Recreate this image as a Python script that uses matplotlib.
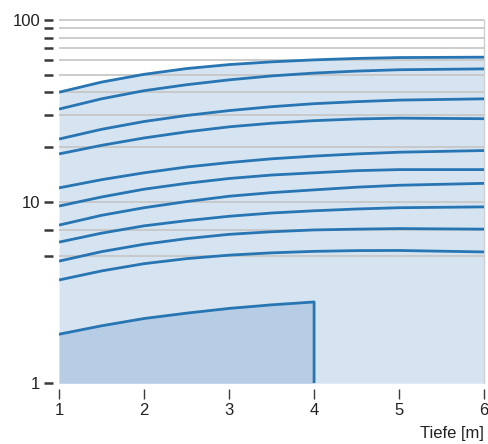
import numpy as np
import matplotlib
matplotlib.use("Agg")
import matplotlib.pyplot as plt
from matplotlib.ticker import FixedLocator, NullFormatter, FixedFormatter

plt.rcParams["font.family"] = ["Liberation Sans", "DejaVu Sans"]

# depth positions where the curves were read
depth = [1, 1.5, 2, 2.5, 3, 3.5, 4, 4.5, 5, 6]

curves = [
    [40.0, 45.5, 50.2, 54.0, 56.8, 58.8, 60.3, 61.4, 62.1, 62.4],
    [32.3, 36.8, 40.8, 44.0, 46.8, 49.2, 51.0, 52.3, 53.2, 53.8],
    [22.1, 25.0, 27.6, 29.8, 31.7, 33.3, 34.6, 35.5, 36.2, 36.8],
    [18.3, 20.4, 22.4, 24.2, 25.8, 27.0, 27.9, 28.5, 28.8, 28.6],
    [11.9, 13.2, 14.4, 15.5, 16.4, 17.2, 17.8, 18.3, 18.7, 19.1],
    [9.45, 10.6, 11.7, 12.6, 13.4, 14.0, 14.4, 14.8, 15.0, 15.0],
    [7.42, 8.4, 9.25, 10.0, 10.7, 11.2, 11.6, 12.0, 12.3, 12.6],
    [5.98, 6.7, 7.35, 7.85, 8.3, 8.65, 8.9, 9.1, 9.25, 9.35],
    [4.7, 5.3, 5.82, 6.25, 6.6, 6.82, 6.98, 7.05, 7.1, 7.05],
    [3.7, 4.15, 4.55, 4.85, 5.07, 5.22, 5.32, 5.37, 5.38, 5.28],
]

# short curve that stops at 4 m
short_depth = [1, 1.5, 2, 2.5, 3, 3.5, 4]
short_curve = [1.86, 2.07, 2.27, 2.43, 2.58, 2.7, 2.8]

major_ticks = [1, 10, 100]
major_labels = ["1", "10", "100"]
minor_ticks = [5, 7, 20, 30, 40, 50, 60, 70, 80, 90]
grid_vals = [5, 7, 10, 20, 30, 40, 50, 60, 70, 80, 90, 100]
x_ticks = [1, 2, 3, 4, 5, 6]

line_col = "#2775b2"
fill_col = "#d6e4f2"
dark_col = "#b6cde5"
grid_col = "#c4c4c4"

fig = plt.figure(figsize=(4.88, 4.44), dpi=100)
ax = fig.add_axes([0.121, 0.137, 0.871, 0.818])

ax.set_yscale("log")
ax.set_xlim(1, 6)
ax.set_ylim(1, 100)

# light area under the top curve
ax.fill_between(depth, 1, curves[0], color=fill_col, lw=0, zorder=1)

ax.hlines(grid_vals, 1, 6, colors=grid_col, lw=1.2, zorder=2, clip_on=False)

for c in curves:
    ax.plot(depth, c, color=line_col, lw=2.0, zorder=4, solid_capstyle="butt")

# darker block below the short curve, closed down to 1 at 4 m
ax.fill_between(short_depth, 1, short_curve, color=dark_col, lw=0, zorder=3)
ax.plot(short_depth + [short_depth[-1]], short_curve + [1],
        color=line_col, lw=2.0, zorder=4)

for side in ["left", "bottom"]:
    ax.spines[side].set_visible(False)
    ax.spines[side].set_position(("outward", 4))
ax.spines["top"].set_visible(False)
ax.spines["right"].set_color("#d0d0d0")
ax.spines["right"].set_linewidth(1.0)

ax.yaxis.set_major_locator(FixedLocator(major_ticks))
ax.yaxis.set_major_formatter(FixedFormatter(major_labels))
ax.yaxis.set_minor_locator(FixedLocator(minor_ticks))
ax.yaxis.set_minor_formatter(NullFormatter())
ax.xaxis.set_major_locator(FixedLocator(x_ticks))
ax.xaxis.set_minor_locator(FixedLocator([]))

ax.tick_params(axis="y", which="both", direction="out", length=6.5, width=1.8,
               color="#3a3a3a", labelsize=12, pad=3, labelcolor="#222222")
ax.tick_params(axis="x", which="both", direction="out", length=7, width=1.0,
               color="#3a3a3a", labelsize=12, pad=3, labelcolor="#222222")

ax.set_xlabel("Tiefe [m]", loc="right", fontsize=12, color="#222222", labelpad=6)

fig.savefig("out.png", dpi=100)
